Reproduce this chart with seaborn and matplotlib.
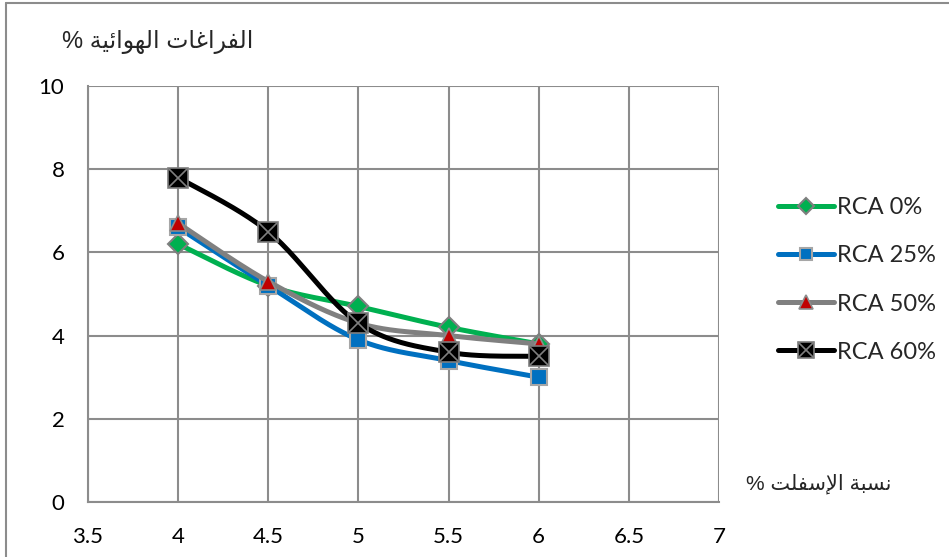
import numpy as np
import pandas as pd
import matplotlib
matplotlib.use("Agg")
import matplotlib.pyplot as plt
from matplotlib.lines import Line2D
from matplotlib.legend_handler import HandlerTuple
import seaborn as sns

# ---- data -------------------------------------------------------------
asphalt = [4, 4.5, 5, 5.5, 6]
rca_0 = [6.2, 5.2, 4.7, 4.2, 3.8]
rca_25 = [6.6, 5.2, 3.9, 3.4, 3.0]
rca_50 = [6.7, 5.3, 4.3, 4.0, 3.8]
rca_60 = [7.8, 6.5, 4.3, 3.6, 3.5]
series_names = ["RCA 0%", "RCA 25%", "RCA 50%", "RCA 60%"]
x_ticks = [3.5, 4, 4.5, 5, 5.5, 6, 6.5, 7]
y_ticks = [0, 2, 4, 6, 8, 10]
y_title = "الفراغات الهوائية %"
x_title = "نسبة الإسفلت %"

# ---- minimal Arabic shaping (presentation forms, visual order) ----------
# letter: (isolated, final, initial, medial); None = does not join forward
FORMS = {
    "ا": ("\uFE8D", "\uFE8E", None, None),
    "إ": ("\uFE87", "\uFE88", None, None),
    "ل": ("\uFEDD", "\uFEDE", "\uFEDF", "\uFEE0"),
    "ف": ("\uFED1", "\uFED2", "\uFED3", "\uFED4"),
    "ر": ("\uFEAD", "\uFEAE", None, None),
    "غ": ("\uFECD", "\uFECE", "\uFECF", "\uFED0"),
    "ت": ("\uFE95", "\uFE96", "\uFE97", "\uFE98"),
    "ه": ("\uFEE9", "\uFEEA", "\uFEEB", "\uFEEC"),
    "و": ("\uFEED", "\uFEEE", None, None),
    "ئ": ("\uFE89", "\uFE8A", "\uFE8B", "\uFE8C"),
    "ي": ("\uFEF1", "\uFEF2", "\uFEF3", "\uFEF4"),
    "ة": ("\uFE93", "\uFE94", None, None),
    "ن": ("\uFEE5", "\uFEE6", "\uFEE7", "\uFEE8"),
    "س": ("\uFEB1", "\uFEB2", "\uFEB3", "\uFEB4"),
    "ب": ("\uFE8F", "\uFE90", "\uFE91", "\uFE92"),
}
LAM_ALEF = {"ا": ("\uFEFB", "\uFEFC"), "إ": ("\uFEF9", "\uFEFA")}


def shape(text):
    chars = list(text)
    out = []
    i = 0

    def joins_forward(c):
        return c in FORMS and FORMS[c][2] is not None

    while i < len(chars):
        c = chars[i]
        prev = chars[i - 1] if i > 0 else ""
        join_prev = joins_forward(prev)
        if c == "ل" and i + 1 < len(chars) and chars[i + 1] in LAM_ALEF:
            iso, fin = LAM_ALEF[chars[i + 1]]
            out.append(fin if join_prev else iso)
            chars[i + 1] = "\u0000"  # ligature breaks forward joining
            i += 2
            continue
        if c not in FORMS:
            out.append(c)
            i += 1
            continue
        nxt = chars[i + 1] if i + 1 < len(chars) else ""
        join_next = joins_forward(c) and nxt in FORMS
        iso, fin, ini, med = FORMS[c]
        if join_prev and join_next:
            out.append(med)
        elif join_prev:
            out.append(fin)
        elif join_next:
            out.append(ini)
        else:
            out.append(iso)
        i += 1
    return "".join(out)[::-1]


# ---- smoothed curve through the points (Bezier, Catmull-Rom tangents) ----
def smooth(xs, ys, n=40):
    p = np.column_stack([xs, ys]).astype(float)
    pts = []
    for i in range(len(p) - 1):
        p0 = p[i - 1] if i > 0 else p[i]
        p1, p2 = p[i], p[i + 1]
        p3 = p[i + 2] if i + 2 < len(p) else p[i + 1]
        c1 = p1 + (p2 - p0) / 6.0
        c2 = p2 - (p3 - p1) / 6.0
        t = np.linspace(0, 1, n, endpoint=(i == len(p) - 2))[:, None]
        seg = ((1 - t) ** 3) * p1 + 3 * ((1 - t) ** 2) * t * c1 \
            + 3 * (1 - t) * t ** 2 * c2 + t ** 3 * p2
        pts.append(seg)
    pts = np.vstack(pts)
    return pts[:, 0], pts[:, 1]


sns.set_theme(style="white")
plt.rcParams["font.family"] = ["Lato", "DejaVu Sans"]

fig = plt.figure(figsize=(9.49, 5.57), dpi=100)
ax = fig.add_axes([88 / 949, 1 - 502 / 557, (719 - 88) / 949, (502 - 86) / 557])

grid_c = "#8c8c8c"
values = [rca_0, rca_25, rca_50, rca_60]
line_colors = ["#00B050", "#0070C0", "#808080", "#000000"]
styles = [
    dict(marker="D", ms=10, mfc="#00B050", mec="#7f7f7f", mew=1.5),
    dict(marker="s", ms=11, mfc="#0070C0", mec="#a6a6a6", mew=1.5),
    dict(marker="^", ms=12, mfc="#C00000", mec="#8c8c8c", mew=1.2),
    dict(marker="s", ms=14, mfc="#000000", mec="#7f7f7f", mew=1.2),
]

handles = []
for k, (name, ys, lc, st) in enumerate(zip(series_names, values, line_colors, styles)):
    sx, sy = smooth(asphalt, ys)
    curve = pd.DataFrame({"x": sx, "y": sy})
    sns.lineplot(data=curve, x="x", y="y", ax=ax, color=lc, lw=3.6,
                 sort=False, estimator=None, zorder=3 + 2 * k)
    ax.plot(asphalt, ys, ls="none", zorder=4 + 2 * k, **st)
    leg_st = dict(st)
    leg_st["ms"] = st["ms"] * 0.85
    h = [Line2D([0], [0], color=lc, lw=3.6, solid_capstyle="round", **leg_st)]
    if k == 3:
        ax.plot(asphalt, ys, ls="none", marker="x", ms=13, mec="#7f7f7f",
                mew=1.2, zorder=4.5 + 2 * k)
        h.append(Line2D([0], [0], ls="none", marker="x", ms=11, mec="#7f7f7f", mew=1.2))
    handles.append(tuple(h))

ax.set_xlim(3.5, 7)
ax.set_ylim(0, 10)
ax.set_xticks(x_ticks)
ax.set_xticklabels([f"{v:g}" for v in x_ticks])
ax.set_yticks(y_ticks)
ax.set_xlabel("")
ax.set_ylabel("")
ax.grid(True, color=grid_c, lw=1.5)
ax.set_axisbelow(True)
for s in ["top", "right"]:
    ax.spines[s].set_visible(False)
for s in ["left", "bottom"]:
    ax.spines[s].set_color(grid_c)
    ax.spines[s].set_linewidth(1.5)
ax.tick_params(axis="both", length=6, width=1.5, color=grid_c, labelsize=16,
               labelcolor="black")
ax.tick_params(axis="x", pad=12)
ax.tick_params(axis="y", pad=11)

fig.text(158 / 949, 1 - 42 / 557, shape(y_title), ha="center", va="center",
         fontsize=17, family=["Liberation Sans", "DejaVu Sans"])
fig.text(819 / 949, 1 - 484 / 557, shape(x_title), ha="center", va="center",
         fontsize=15, family=["Liberation Sans", "DejaVu Sans"])

leg = fig.legend(handles, series_names, loc="center left",
                 bbox_to_anchor=(757 / 949, 1 - 280 / 557), frameon=False,
                 fontsize=17, handlelength=2.35, handletextpad=0.15,
                 labelspacing=1.15,
                 handler_map={tuple: HandlerTuple(ndivide=1)})

# outer chart frame (top and left edges)
fig.add_artist(Line2D([6 / 949, 1], [1 - 3 / 557, 1 - 3 / 557],
                      transform=fig.transFigure, color="#8c8c8c", lw=1.5))
fig.add_artist(Line2D([6 / 949, 6 / 949], [0, 1 - 3 / 557],
                      transform=fig.transFigure, color="#8c8c8c", lw=1.5))

fig.savefig("out.png", dpi=100, facecolor="white")
